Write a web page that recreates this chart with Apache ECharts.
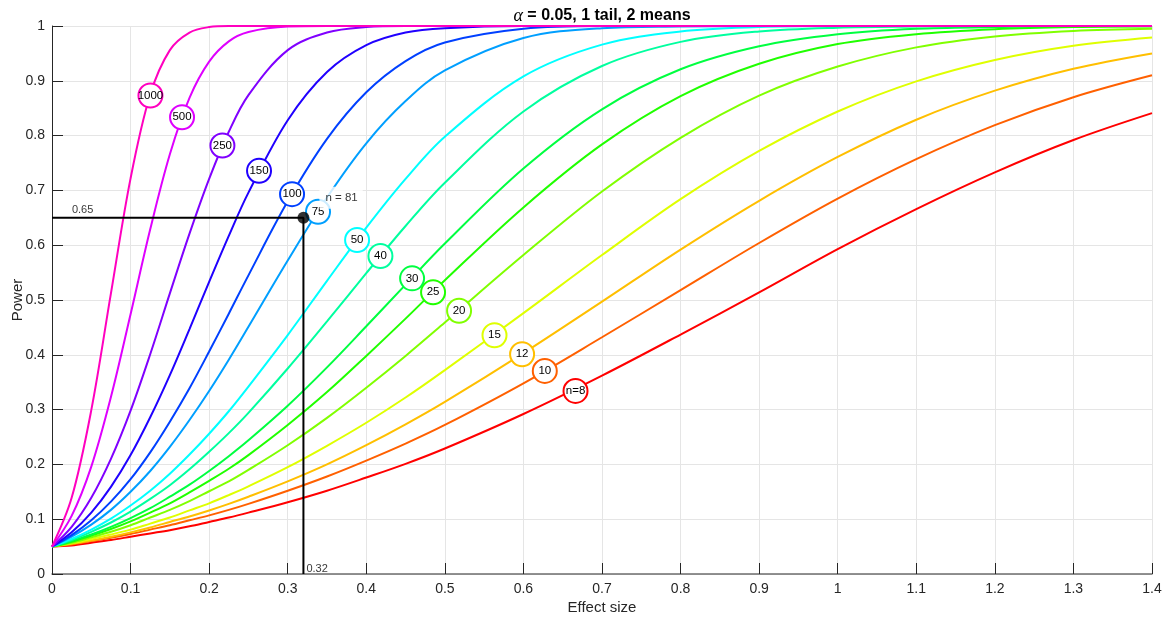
<!DOCTYPE html>
<html><head><meta charset="utf-8">
<script src="https://cdn.jsdelivr.net/npm/echarts@6/dist/echarts.min.js"></script>
<style>html,body{margin:0;padding:0;background:#fff}#c{width:1173px;height:618px}</style>
</head><body><div id="c"></div>
<script>
// ---- data ----
const effectSize = [0,0.025,0.05,0.075,0.1,0.125,0.15,0.175,0.2,0.225,0.25,0.3,0.35,0.4,0.45,0.5,0.6,0.7,0.8,0.9,1.0,1.1,1.2,1.3,1.4];
const sampleSizes = [8,10,12,15,20,25,30,40,50,75,100,150,250,500,1000];
const power8    = [0.05,0.052,0.057,0.062,0.068,0.074,0.08,0.087,0.095,0.103,0.112,0.131,0.152,0.176,0.201,0.229,0.292,0.362,0.437,0.514,0.593,0.666,0.733,0.792,0.841];
const power10   = [0.05,0.054,0.06,0.066,0.073,0.081,0.089,0.098,0.107,0.117,0.128,0.152,0.178,0.207,0.238,0.272,0.348,0.432,0.518,0.604,0.685,0.757,0.819,0.87,0.91];
const power12   = [0.05,0.055,0.061,0.068,0.076,0.085,0.095,0.105,0.116,0.128,0.141,0.169,0.2,0.235,0.273,0.314,0.403,0.497,0.592,0.681,0.761,0.829,0.882,0.922,0.95];
const power15   = [0.05,0.056,0.064,0.072,0.081,0.092,0.103,0.116,0.129,0.144,0.16,0.195,0.234,0.276,0.322,0.372,0.476,0.582,0.684,0.772,0.844,0.899,0.938,0.964,0.979];
const power20   = [0.05,0.057,0.067,0.077,0.089,0.103,0.117,0.133,0.151,0.169,0.19,0.235,0.285,0.34,0.398,0.459,0.582,0.698,0.796,0.873,0.926,0.961,0.981,0.991,0.995];
const power25   = [0.05,0.059,0.07,0.082,0.096,0.112,0.129,0.149,0.17,0.192,0.217,0.272,0.332,0.398,0.466,0.536,0.669,0.784,0.872,0.931,0.967,0.985,0.994,0.998,0.999];
const power30   = [0.05,0.06,0.072,0.086,0.102,0.12,0.141,0.163,0.188,0.215,0.244,0.307,0.377,0.452,0.528,0.603,0.74,0.848,0.921,0.963,0.985,0.995,0.998,1,1];
const power40   = [0.05,0.062,0.077,0.094,0.114,0.137,0.162,0.191,0.223,0.257,0.294,0.375,0.461,0.549,0.635,0.714,0.844,0.927,0.971,0.99,0.997,0.999,1,1,1];
const power50   = [0.05,0.064,0.081,0.101,0.125,0.152,0.183,0.218,0.256,0.297,0.342,0.436,0.535,0.632,0.721,0.798,0.908,0.966,0.99,0.998,1,1,1,1,1];
const power75   = [0.05,0.068,0.09,0.117,0.15,0.188,0.232,0.281,0.334,0.391,0.451,0.572,0.687,0.786,0.863,0.919,0.978,0.996,0.999,1,1,1,1,1,1];
const power100  = [0.05,0.071,0.098,0.132,0.173,0.222,0.278,0.339,0.406,0.475,0.545,0.68,0.794,0.879,0.936,0.97,0.995,1,1,1,1,1,1,1,1];
const power150  = [0.05,0.076,0.112,0.159,0.217,0.286,0.363,0.447,0.533,0.617,0.696,0.828,0.916,0.965,0.988,0.996,1,1,1,1,1,1,1,1,1];
const power250  = [0.05,0.086,0.139,0.21,0.298,0.401,0.512,0.621,0.721,0.807,0.874,0.956,0.988,0.998,1,1,1,1,1,1,1,1,1,1,1];
const power500  = [0.05,0.106,0.196,0.323,0.474,0.629,0.766,0.869,0.935,0.972,0.989,0.999,1,1,1,1,1,1,1,1,1,1,1,1,1];
const power1000 = [0.05,0.139,0.299,0.512,0.722,0.875,0.956,0.988,0.998,1,1,1,1,1,1,1,1,1,1,1,1,1,1,1,1];
const powerSeries = [power8,power10,power12,power15,power20,power25,power30,power40,power50,power75,power100,power150,power250,power500,power1000];

const labelText = ['n=8','10','12','15','20','25','30','40','50','75','100','150','250','500','1000'];
const labelX = [0.6663,0.6272,0.5983,0.5632,0.5181,0.485,0.4583,0.418,0.3883,0.3386,0.3055,0.2635,0.2169,0.1655,0.1253];
const labelY = [0.3341,0.3706,0.401,0.4356,0.4805,0.514,0.5395,0.5802,0.6094,0.661,0.6932,0.7357,0.782,0.8336,0.8731];

const targetEffect = 0.32;
const targetPower = 0.65;
const targetN = 81;

// ---- styles ----
const colors = ['#ff0000','#ff6000','#ffbf00','#dfff00','#80ff00','#20ff00','#00ff40','#00ff9f','#00ffff','#009fff','#0040ff','#2000ff','#8000ff','#df00ff','#ff00bf'];
const FONT = "'Liberation Sans', Arial, Helvetica, sans-serif";
const AX = '#262626';

const chart = echarts.init(document.getElementById('c'), null, {renderer:'canvas'});

const series = [];
sampleSizes.forEach((n, i) => {
  series.push({
    type: 'line', name: 'n' + n,
    data: effectSize.map((x, j) => [x, powerSeries[i][j]]),
    smooth: 0.35, symbol: 'none', clip: false, z: 2,
    lineStyle: {width: 2, color: colors[i]}
  });
});
series.push({
  type: 'scatter', z: 3, symbolSize: 24,
  data: labelX.map((x, i) => ({value: [x, labelY[i]], itemStyle: {borderColor: colors[i]}})),
  itemStyle: {color: '#fff', borderWidth: 2, opacity: 1},
  label: {show: true, position: 'inside', formatter: p => labelText[p.dataIndex], color: '#000', fontSize: 11.5, fontFamily: FONT}
});
series.push({
  type: 'line', z: 4, symbol: 'none', clip: false,
  data: [[0, targetPower], [targetEffect, targetPower], [targetEffect, 0]],
  lineStyle: {width: 2, color: '#000'}
});
series.push({
  type: 'scatter', z: 6, symbolSize: 12,
  data: [[targetEffect, targetPower]],
  itemStyle: {color: '#000'},
  label: {show: true, position: [22, -25], formatter: 'n = ' + targetN, color: '#000', fontSize: 11.5, fontFamily: FONT,
          backgroundColor: '#fff', padding: [5, 5, 5, 6]}
});
series.push({
  type: 'scatter', z: 5, symbolSize: 0.1,
  data: [[0, targetPower]],
  itemStyle: {color: 'rgba(0,0,0,0)'},
  label: {show: true, position: [20, -13], formatter: String(targetPower), color: '#000', fontSize: 11, fontFamily: FONT}
});
series.push({
  type: 'scatter', z: 5, symbolSize: 0.1,
  data: [[targetEffect, 0]],
  itemStyle: {color: 'rgba(0,0,0,0)'},
  label: {show: true, position: [3, -10], formatter: String(targetEffect), color: '#000', fontSize: 11, fontFamily: FONT}
});

chart.setOption({
  animation: false,
  backgroundColor: '#fff',
  title: {
    text: '{a|α} = 0.05, 1 tail, 2 means',
    left: 602, top: 7, textAlign: 'center', padding: 0,
    textStyle: {fontSize: 16, fontWeight: 'bold', color: '#000', fontFamily: FONT,
      rich: {a: {fontFamily: "'Liberation Serif', 'DejaVu Serif', serif", fontStyle: 'italic', fontWeight: 'normal', fontSize: 18, color: '#000'}}}
  },
  grid: {left: 52, right: 21, top: 26, bottom: 44, containLabel: false, outerBoundsMode: 'none'},
  xAxis: {
    type: 'value', min: 0, max: 1.4, interval: 0.1,
    name: 'Effect size', nameLocation: 'middle', nameGap: 26, nameMoveOverlap: false,
    nameTextStyle: {fontSize: 15, color: AX, fontFamily: FONT},
    axisLine: {show: true, onZero: false, lineStyle: {color: '#6e6e6e', width: 1.5}},
    axisTick: {show: true, inside: true, length: 11, lineStyle: {color: AX, width: 1}},
    axisLabel: {fontSize: 14, color: AX, margin: 8, fontFamily: FONT},
    splitLine: {show: true, lineStyle: {color: '#e5e5e5', width: 1}}
  },
  yAxis: {
    type: 'value', min: 0, max: 1, interval: 0.1,
    name: 'Power', nameLocation: 'middle', nameGap: 27, nameRotate: 90, nameMoveOverlap: false,
    nameTextStyle: {fontSize: 15, color: AX, fontFamily: FONT},
    axisLine: {show: true, onZero: false, lineStyle: {color: AX, width: 1}},
    axisTick: {show: true, inside: true, length: 11, lineStyle: {color: AX, width: 1}},
    axisLabel: {fontSize: 14, color: AX, margin: 7, fontFamily: FONT},
    splitLine: {show: true, lineStyle: {color: '#e5e5e5', width: 1}}
  },
  series: series
});
</script></body></html>
